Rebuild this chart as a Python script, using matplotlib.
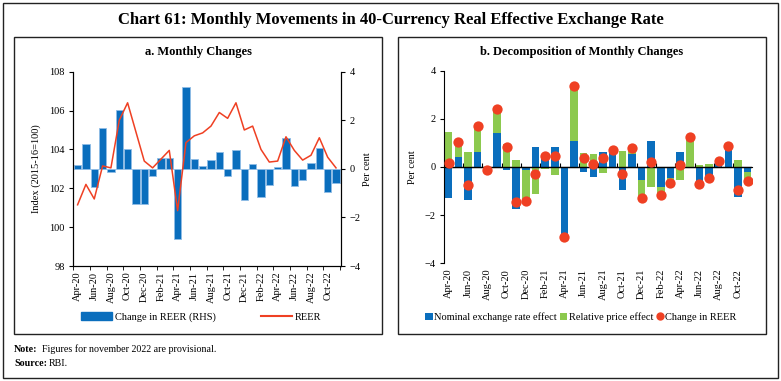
import numpy as np
import matplotlib
matplotlib.use("Agg")
import matplotlib.pyplot as plt
from matplotlib.patches import Patch, Rectangle
from matplotlib.lines import Line2D

plt.rcParams['font.family'] = ['Liberation Serif', 'DejaVu Serif']

# data
months = ['Apr-20', 'May-20', 'Jun-20', 'Jul-20', 'Aug-20', 'Sep-20', 'Oct-20', 'Nov-20',
          'Dec-20', 'Jan-21', 'Feb-21', 'Mar-21', 'Apr-21', 'May-21', 'Jun-21', 'Jul-21',
          'Aug-21', 'Sep-21', 'Oct-21', 'Nov-21', 'Dec-21', 'Jan-22', 'Feb-22', 'Mar-22',
          'Apr-22', 'May-22', 'Jun-22', 'Jul-22', 'Aug-22', 'Sep-22', 'Oct-22', 'Nov-22']

reer = [101.15, 102.2, 101.45, 103.15, 103.05, 105.5, 106.4, 104.9,
        103.4, 103.05, 103.5, 103.95, 100.85, 104.35, 104.7, 104.85,
        105.2, 105.9, 105.6, 106.4, 105.0, 105.2, 104.0, 103.35,
        103.4, 104.65, 103.95, 103.45, 103.7, 104.6, 103.6, 103.05]

reer_change = [0.15, 1.03, -0.75, 1.69, -0.13, 2.42, 0.83, -1.45,
               -1.43, -0.31, 0.45, 0.45, -2.90, 3.38, 0.39, 0.11,
               0.37, 0.71, -0.31, 0.77, -1.30, 0.20, -1.15, -0.66,
               0.07, 1.25, -0.70, -0.46, 0.25, 0.87, -0.97, -0.58]

nominal_effect = [-1.30, 0.43, -1.37, 0.63, -0.08, 1.43, -0.12, -1.74,
                  -0.12, 0.83, 0.55, 0.81, -2.88, 1.06, -0.21, -0.41,
                  0.61, 0.76, -0.95, 0.55, -0.56, 1.06, -0.82, -0.46,
                  0.63, 0.02, -0.77, -0.60, 0.24, 0.72, -1.24, -0.22]

price_effect = [1.46, 0.60, 0.62, 1.05, -0.05, 0.98, 0.95, 0.30,
                -1.30, -1.13, -0.09, -0.35, -0.02, 2.32, 0.60, 0.53,
                -0.23, -0.06, 0.65, 0.22, -0.74, -0.84, -0.33, -0.20,
                -0.56, 1.23, 0.07, 0.14, 0.02, 0.15, 0.28, -0.36]

blue = '#0A6EBD'
green = '#8CC94E'
red = '#EF4023'

x = np.arange(len(months))
label_pos = x[::2]
label_txt = months[::2]
bound_ticks = np.arange(-0.5, len(months), 2)

fig = plt.figure(figsize=(7.81, 3.81), dpi=100)

# boxes around the figure and the two panels
fig.patches.append(Rectangle((3/781, 3/381), 775/781, 375/381, transform=fig.transFigure,
                             fill=False, edgecolor='#222222', linewidth=1.0))
fig.patches.append(Rectangle((14/781, 1-334/381), 368/781, 297/381, transform=fig.transFigure,
                             fill=False, edgecolor='#222222', linewidth=1.0))
fig.patches.append(Rectangle((398/781, 1-334/381), 368/781, 297/381, transform=fig.transFigure,
                             fill=False, edgecolor='#222222', linewidth=1.0))

fig.text(0.5, 0.948, 'Chart 61: Monthly Movements in 40-Currency Real Effective Exchange Rate',
         ha='center', va='center', fontsize=12, fontweight='bold')
fig.text(198/781, 1-52.5/381, 'a. Monthly Changes', ha='center', va='center',
         fontsize=9, fontweight='bold')
fig.text(582/781, 1-52.5/381, 'b. Decomposition of Monthly Changes', ha='center', va='center',
         fontsize=9, fontweight='bold')

# ---- panel a ----
ax_bar = fig.add_axes([73/781, 1-266/381, 268/781, 194.3/381])
ax_line = ax_bar.twinx()

ax_bar.bar(x, reer_change, width=0.86, color=blue, edgecolor='#8FBCE6', linewidth=0.6)
ax_bar.set_ylim(-4, 4)
ax_bar.set_yticks([-4, -2, 0, 2, 4])
ax_bar.yaxis.tick_right()
ax_bar.yaxis.set_label_position('right')
ax_bar.set_ylabel('Per cent', fontsize=7.5, labelpad=2)
ax_bar.set_xlim(-0.55, 31.6)
ax_bar.set_xticks(label_pos)
ax_bar.set_xticklabels(label_txt, rotation=90, fontsize=7.5)
ax_bar.set_xticks(bound_ticks, minor=True)
ax_bar.tick_params(axis='x', which='major', length=0, pad=4)
ax_bar.tick_params(axis='x', which='minor', length=3, direction='out')
ax_bar.tick_params(axis='y', labelsize=7.5, length=3, pad=3)
ax_bar.spines['top'].set_visible(False)

ax_line.plot(x, reer, color=red, linewidth=1.1)
ax_line.set_ylim(98, 108)
ax_line.set_yticks([98, 100, 102, 104, 106, 108])
ax_line.yaxis.tick_left()
ax_line.yaxis.set_label_position('left')
ax_line.set_ylabel('Index (2015-16=100)', fontsize=7.5, labelpad=6)
ax_line.tick_params(axis='y', labelsize=7.5, length=3, pad=3)
ax_line.spines['top'].set_visible(False)

fig.legend(handles=[Patch(facecolor=blue, edgecolor=blue), Line2D([], [], color=red, linewidth=1.5)],
           labels=['Change in REER (RHS)', 'REER'], loc='center left',
           bbox_to_anchor=(72/781, 1-317/381), ncol=2, frameon=False, fontsize=7.5,
           handlelength=2.9, handleheight=0.7, handletextpad=0.3, columnspacing=4.4)

# ---- panel b ----
nom = np.array(nominal_effect)
prc = np.array(price_effect)
prc_bottom = np.where(np.sign(prc) == np.sign(nom), nom, 0)

ax2 = fig.add_axes([444.3/781, 1-263.3/381, 307.7/781, 192.6/381])
ax2.bar(x, nom, width=0.78, color=blue)
ax2.bar(x, prc, bottom=prc_bottom, width=0.78, color=green)
ax2.scatter(x, reer_change, s=55, color=red, zorder=3, linewidths=0)
ax2.set_ylim(-4, 4)
ax2.set_yticks([-4, -2, 0, 2, 4])
ax2.set_xlim(-0.45, 31.45)
ax2.set_ylabel('Per cent', fontsize=7.5, labelpad=6)
ax2.tick_params(axis='y', labelsize=7.5, length=3, pad=3)
ax2.set_xticks(label_pos)
ax2.set_xticklabels(label_txt, rotation=90, fontsize=7.5)
ax2.tick_params(axis='x', length=0, pad=4)
for s in ['top', 'right', 'bottom']:
    ax2.spines[s].set_visible(False)
ax2.axhline(0, color='black', linewidth=1.0, zorder=2)
zero_ax = ax2.secondary_xaxis(0.5)
zero_ax.set_xticks(bound_ticks)
zero_ax.set_xticklabels([])
zero_ax.tick_params(axis='x', length=3, direction='out')
zero_ax.spines['bottom'].set_visible(False)

fig.legend(handles=[Patch(facecolor=blue), Patch(facecolor=green),
                    Line2D([], [], marker='o', linestyle='none', color=red, markersize=5)],
           labels=['Nominal exchange rate effect', 'Relative price effect', 'Change in REER'],
           loc='center', bbox_to_anchor=(581/781, 1-317/381), ncol=3, frameon=False,
           fontsize=7.5, handlelength=0.7, handleheight=0.7, handletextpad=0.15,
           columnspacing=0.3)

# notes
fig.text(14/781, 1-349/381, 'Note:', fontsize=7.2, fontweight='bold', va='center')
fig.text(42/781, 1-349/381, 'Figures for november 2022 are provisional.', fontsize=7.2, va='center')
fig.text(14/781, 1-363/381, 'Source:', fontsize=7.2, fontweight='bold', va='center')
fig.text(49/781, 1-363/381, 'RBI.', fontsize=7.2, va='center')

fig.savefig('out.png', dpi=100)
